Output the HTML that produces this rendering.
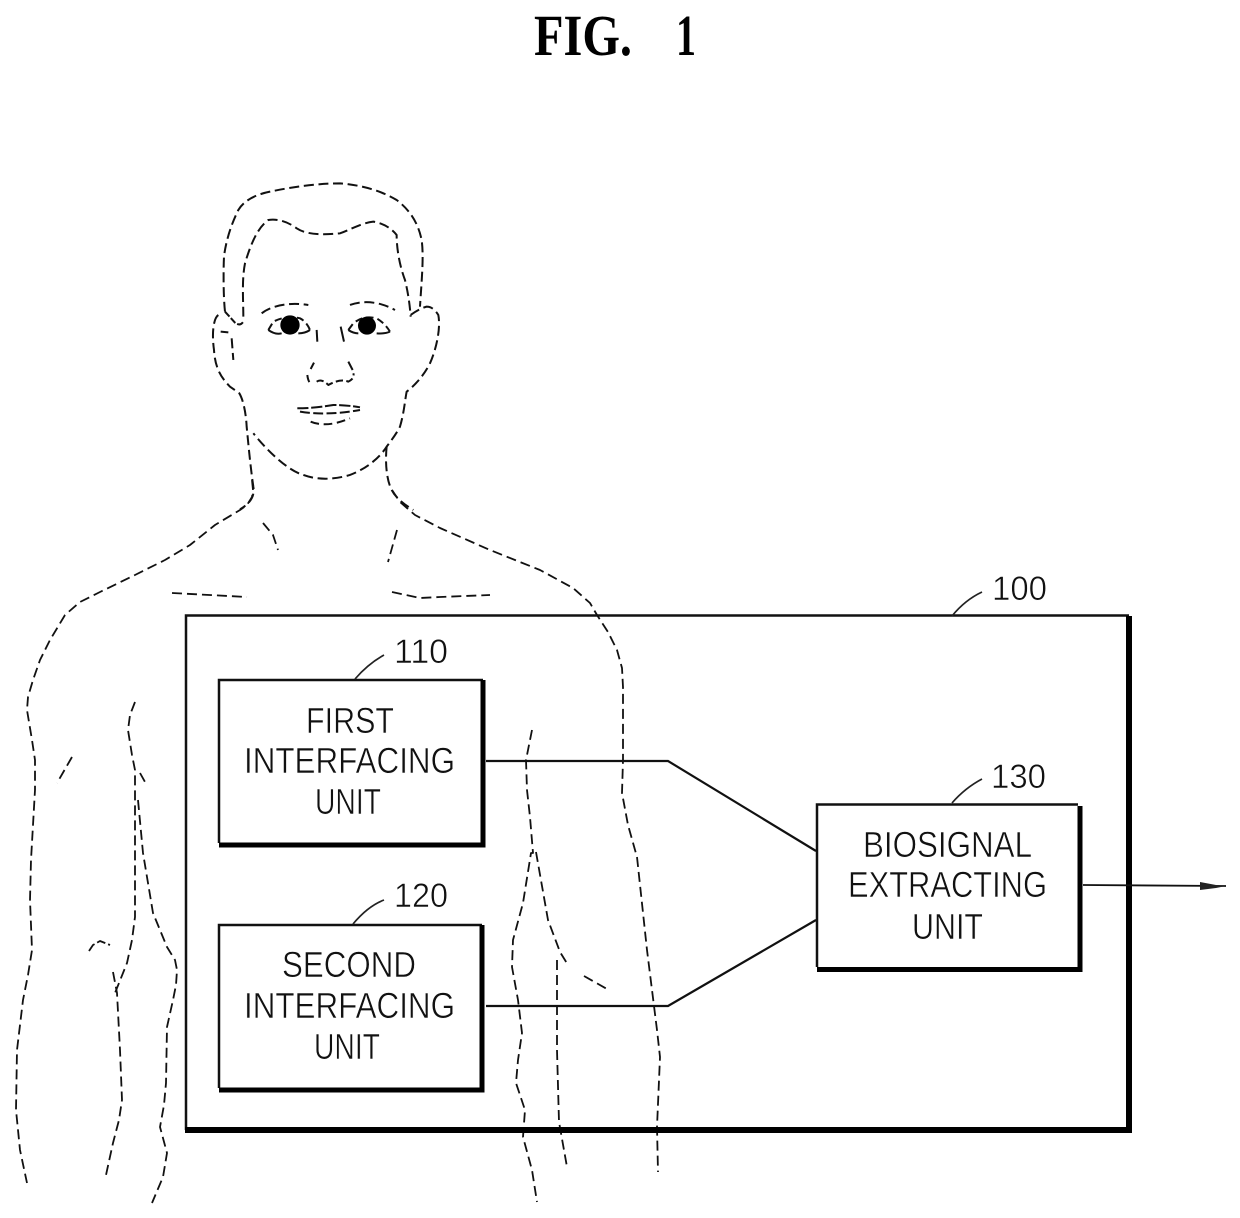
<!DOCTYPE html>
<html lang="en">
<head>
<meta charset="utf-8">
<title>FIG. 1</title>
<style>
html,body{margin:0;padding:0;background:#fff;}
svg{display:block;}
.t{font-family:"Liberation Sans",sans-serif;font-size:36px;fill:#111;stroke:#fff;stroke-width:.55px;}
.n{font-family:"Liberation Sans",sans-serif;font-size:34px;fill:#111;stroke:#fff;stroke-width:.55px;}
</style>
</head>
<body>
<svg width="1240" height="1218" viewBox="0 0 1240 1218" xmlns="http://www.w3.org/2000/svg">
<rect width="1240" height="1218" fill="#fff"/>

<text x="534" y="55" font-family="'Liberation Serif',serif" font-weight="700" font-size="58" fill="#000" textLength="98" lengthAdjust="spacingAndGlyphs">FIG.</text>
<text x="676" y="55" font-family="'Liberation Serif',serif" font-weight="700" font-size="58" fill="#000" textLength="20" lengthAdjust="spacingAndGlyphs">1</text>

<!-- body -->
<g fill="none" stroke="#111" stroke-width="1.8" stroke-dasharray="10 5" stroke-linejoin="round">
<polyline points="252,480 253,490 252,497 247,505 240,510 215,525 190,545 165,560 135,575 100,592 80,602 65,615 50,640 40,660 33,680 28,697 27,710 32,740 35,760 35,790 31,860 30,900 32,950 28,975 23,1000 17,1050 16,1110 20,1150 27,1183"/>
<polyline points="135,702 130,715 128,730 132,755 135,770 135,850 135,917 132,940 127,963 115,993"/>
<polyline points="140,773 145,782"/>
<polyline points="138,800 143,853 153,913 167,947 175,960 177,970 176,985 173,1000 167,1027 166,1083 164,1105 160,1127 167,1153 163,1177 152,1203"/>
<polyline points="113,972 117,993 120,1050 122,1100 119,1120 113,1143 106,1175"/>
<polyline points="89,951 93,945 100,941 110,945" stroke-dasharray="9 3"/>
<polyline points="72,757 57,783"/>
<polyline points="172,593 247,597"/>
<polyline points="263,523 273,535 278,550"/>
<polyline points="392,490 400,502 415,515 440,528 490,550 540,570 573,588 590,603 597,615 608,632 617,650 622,668 623,687 623,760 622,793 628,825 637,857 647,950 657,1030 660,1057 657,1127 658,1172"/>
<polyline points="392,592 420,598 440,597 490,595"/>
<polyline points="397,530 388,562"/>
<polyline points="532,730 526,760 527,790 530,817 533,853 531,853 523,903 513,940 512,967 518,1000 522,1033 518,1060 516,1083 525,1110 523,1137 532,1170 537,1202"/>
<polyline points="536,852 548,920 560,952 568,965"/>
<polyline points="584,976 607,989"/>
<polyline points="557,960 557,1050 559,1122 567,1167"/>
</g>

<!-- head -->
<g transform="translate(200 170) scale(.3333)" fill="none" stroke="#111" stroke-width="6" stroke-dasharray="30 14" stroke-linejoin="round">
<path d="M75,425 C70,380 70,300 72,260 C78,210 95,160 115,120 C130,95 160,75 210,65 C280,50 360,40 420,40 C480,45 540,60 590,90 C630,120 655,160 665,210 C672,260 665,330 660,410"/>
<path d="M130,440 C130,390 125,330 135,280 C150,230 170,175 205,150 C240,145 270,160 290,175 C320,195 370,195 420,190 C450,180 480,160 520,155 C550,160 575,175 590,195 C590,240 600,290 615,330 C625,370 630,410 632,440"/>
<path d="M75,425 L105,458 Q120,470 130,455" stroke-dasharray="20 6"/>
<path d="M55,435 C40,445 35,490 42,540 C45,590 60,620 90,650 L118,670 C130,690 138,730 140,770 C145,820 150,880 160,950 C165,980 150,1000 120,1018"/>
<path d="M632,435 Q660,415 680,410 Q700,410 715,435 C722,470 712,530 690,580 C670,620 640,650 620,665 C615,690 612,730 600,770 C590,790 575,810 560,830 C535,870 490,900 450,915 C400,930 350,930 310,915 C260,900 200,840 160,790"/>
<path d="M560,830 C555,880 560,930 575,960 Q590,990 640,1020"/>
<path d="M62,485 L85,487"/>
<path d="M95,505 L100,570"/>
<path d="M185,430 C210,410 260,395 325,405"/>
<path d="M450,405 C490,390 540,395 585,420"/>
<path d="M205,480 L220,455 Q260,435 300,445 Q320,455 330,480" stroke-dasharray="22 12"/>
<path d="M205,480 Q225,495 245,490 M295,490 Q315,490 330,480" stroke-dasharray="none"/>
<path d="M445,480 L460,460 Q490,435 530,445 Q555,460 570,485" stroke-dasharray="22 12"/>
<path d="M445,480 Q460,490 475,490 M530,490 Q555,492 570,485" stroke-dasharray="none"/>
<path d="M350,480 L352,515 M422,470 L432,515 M342,578 L332,597 M445,575 L458,600" stroke-dasharray="none"/>
<path d="M322,615 Q325,640 335,640 M350,635 Q365,625 385,645 Q420,625 445,635 Q465,625 460,610" stroke-dasharray="22 10"/>
<path d="M292,715 Q340,715 400,705 Q440,705 480,712" stroke-dasharray="34 8"/>
<path d="M300,725 Q380,738 480,720" stroke-dasharray="30 10"/>
<path d="M332,755 Q380,775 450,745" stroke-dasharray="26 14"/>
<circle cx="270" cy="465" r="29" fill="#000" stroke="none"/>
<circle cx="501" cy="467" r="27" fill="#000" stroke="none"/>
</g>

<!-- outer box -->
<g fill="none" stroke="#111">
<path d="M186,1130 V615.5 H1129" stroke-width="2.5"/>
<path d="M1129,616 V1133" stroke-width="6" stroke="#000"/>
<path d="M185,1130 H1132" stroke-width="6" stroke="#000"/>
</g>

<!-- unit boxes -->
<g fill="#fff" stroke="none">
<rect x="218" y="680" width="265" height="163"/>
<rect x="218" y="925" width="264" height="163"/>
<rect x="816" y="804" width="262" height="163"/>
</g>
<g fill="none" stroke="#111" stroke-width="2.5">
<path d="M219,843 V680 H483"/>
<path d="M219,1088 V925 H482"/>
<path d="M817,967 V804.5 H1078"/>
</g>
<g fill="none" stroke="#000" stroke-width="5">
<path d="M483,680 V845 H219"/>
<path d="M482,925 V1090 H219"/>
<path d="M1080,806 V969.5 H817"/>
</g>

<!-- connectors -->
<g fill="none" stroke="#111" stroke-width="2.2">
<polyline points="486,761 668,761 816,851"/>
<polyline points="486,1006 668,1006 816,920"/>
<line x1="1083" y1="885" x2="1226" y2="886" stroke-width="1.8"/>
</g>
<polygon points="1200,882 1216,885 1226,886 1216,888 1200,890" fill="#222"/>

<!-- leaders -->
<g fill="none" stroke="#222" stroke-width="1.7">
<path d="M952,616 Q965,600 982,592"/>
<path d="M952,803 Q965,788 982,779"/>
<path d="M355,679 Q368,664 384,655"/>
<path d="M353,924 Q368,906 384,900"/>
</g>

<!-- labels -->
<text class="n" x="992" y="600" textLength="55" lengthAdjust="spacingAndGlyphs">100</text>
<text class="n" x="991" y="788" textLength="55" lengthAdjust="spacingAndGlyphs">130</text>
<text class="n" x="394" y="663" textLength="54" lengthAdjust="spacingAndGlyphs">110</text>
<text class="n" x="394" y="907" textLength="54" lengthAdjust="spacingAndGlyphs">120</text>

<text class="t" x="306" y="733" textLength="88" lengthAdjust="spacingAndGlyphs">FIRST</text>
<text class="t" x="244" y="773" textLength="211" lengthAdjust="spacingAndGlyphs">INTERFACING</text>
<text class="t" x="315" y="814" textLength="66" lengthAdjust="spacingAndGlyphs">UNIT</text>

<text class="t" x="282" y="977" textLength="134" lengthAdjust="spacingAndGlyphs">SECOND</text>
<text class="t" x="244" y="1018" textLength="211" lengthAdjust="spacingAndGlyphs">INTERFACING</text>
<text class="t" x="314" y="1059" textLength="66" lengthAdjust="spacingAndGlyphs">UNIT</text>

<text class="t" x="863" y="857" textLength="169" lengthAdjust="spacingAndGlyphs">BIOSIGNAL</text>
<text class="t" x="848" y="897" textLength="199" lengthAdjust="spacingAndGlyphs">EXTRACTING</text>
<text class="t" x="912" y="939" textLength="71" lengthAdjust="spacingAndGlyphs">UNIT</text>
</svg>
</body>
</html>
